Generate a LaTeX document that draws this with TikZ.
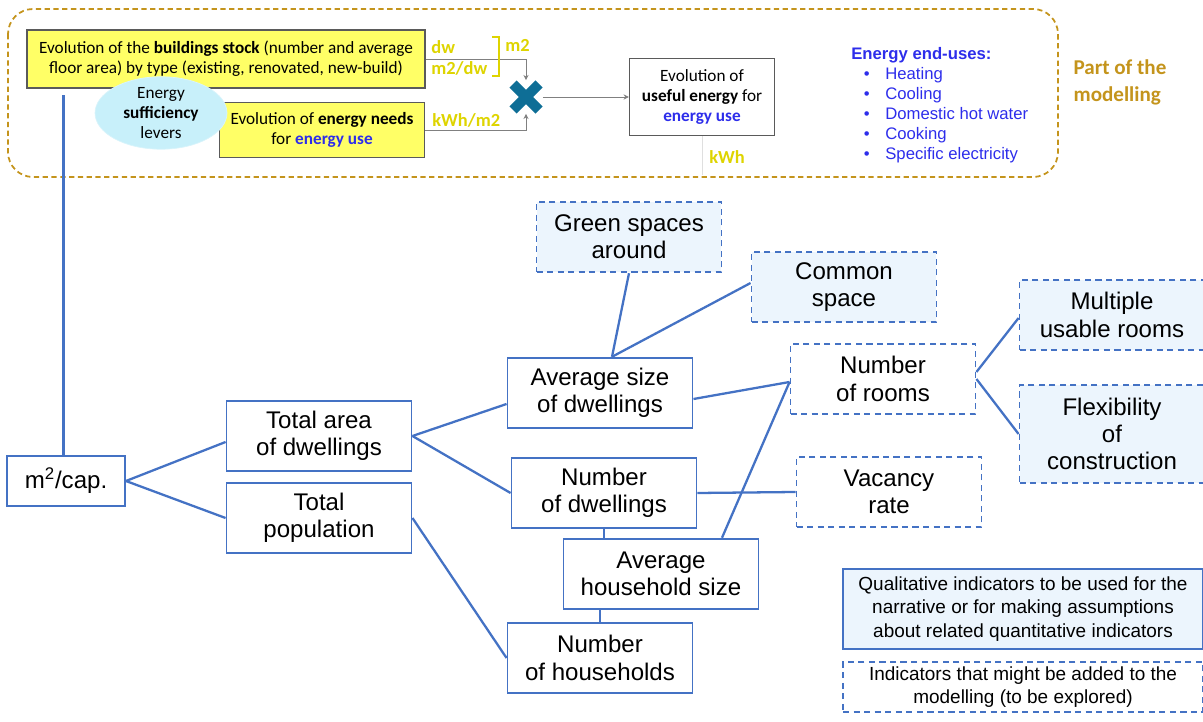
\documentclass[tikz,border=0pt]{standalone}
\usepackage{fontspec}
\setmainfont{Liberation Sans}
\newfontfamily\calfont{Carlito}
\usepackage{xcolor}
\usepackage{tikz}
\usetikzlibrary{shapes.geometric, arrows.meta, positioning, calc}
\definecolor{linkblue}{RGB}{68,114,196}
\definecolor{paleblue}{RGB}{236,245,253}
\definecolor{stockyellow}{RGB}{255,255,102}
\definecolor{unitsyellow}{RGB}{222,212,0}
\definecolor{modelgold}{RGB}{196,148,28}
\definecolor{leverscyan}{RGB}{200,240,250}
\definecolor{crossteal}{RGB}{14,110,150}
\definecolor{enduseblue}{RGB}{45,45,235}
\definecolor{boxgray}{RGB}{90,90,90}
\newcommand{\treefont}{\fontsize{13.7}{15.5}\selectfont}
\newcommand{\legendfont}{\fontsize{10.8}{13.2}\selectfont}
\newcommand{\topfont}{\calfont\fontsize{9.8}{11.4}\selectfont}
\newcommand{\usesfont}{\fontsize{9.5}{11.4}\selectfont}
\tikzset{
  treebox/.style={rectangle, draw=linkblue, fill=white, line width=1.1pt,
    align=center, font=\treefont, minimum width=3.7cm, minimum height=1.41cm,
    inner sep=0pt},
  dashbox/.style={treebox, dash pattern=on 3.5pt off 2.5pt},
  qualbox/.style={dashbox, fill=paleblue},
  legendbox/.style={font=\legendfont, minimum width=7.2cm},
  link/.style={draw=linkblue, line width=1.3pt},
  modelframe/.style={draw=modelgold, line width=1pt, dash pattern=on 3pt off 2pt,
    rounded corners=0.5cm},
  yellowbox/.style={rectangle, draw=boxgray, fill=stockyellow, line width=0.8pt,
    align=center, font=\topfont, inner sep=0pt},
  unitlabel/.style={text=unitsyellow, font=\calfont\fontsize{10.5}{12}\selectfont\bfseries,
    inner sep=0pt},
  feed/.style={draw=gray, line width=0.5pt, -{Stealth[length=3pt, width=3pt]}},
  crossarm/.style={draw=crossteal, line width=0.2cm}
}

\begin{document}
\begin{tikzpicture}[x=0.02cm, y=-0.02cm]
  \useasboundingbox (0,0) rectangle (1203,722);

  % Part of the modelling
  \draw[modelframe] (8,9) rectangle (1058,177);
  \node[text=modelgold, font=\calfont\fontsize{12}{15.3}\selectfont\bfseries, align=left]
    (modtitle) at (1120,82) {Part of the\\modelling};

  \node[yellowbox, minimum width=7.96cm, minimum height=1.16cm] (stock) at (226,59)
    {Evolution of the \textbf{buildings stock} (number and average\\
     floor area) by type (existing, renovated, new-build)};
  \node[yellowbox, minimum width=4.1cm, minimum height=1.1cm] (needs) at (322,130)
    {Evolution of \textbf{energy needs}\\
     for \textbf{\color{enduseblue}energy use}};
  \node[ellipse, fill=leverscyan, draw=leverscyan!70!white, minimum width=2.64cm,
    minimum height=1.38cm, inner sep=0pt, align=center, font=\topfont]
    (levers) at (161,113) {Energy\\\textbf{sufficiency}\\levers};

  % Multiplication
  \node[minimum size=0.66cm, inner sep=0pt] (mult) at (526,97) {};
  \draw[crossarm] ($(mult)+(-13,-13)$) -- ($(mult)+(13,13)$);
  \draw[crossarm] ($(mult)+(-13,13)$) -- ($(mult)+(13,-13)$);
  \draw[feed] (stock.east) -| (mult.north);
  \draw[feed] (needs.east) -| (mult.south);

  \node[rectangle, draw=boxgray, fill=white, line width=0.8pt, align=center,
    font=\topfont, minimum width=2.9cm, minimum height=1.54cm, inner sep=0pt]
    (useful) at (702,97)
    {Evolution of\\\textbf{useful energy} for\\\textbf{\color{enduseblue}energy use}};
  \draw[feed] (mult.east) -- (useful.west);
  \coordinate (usefulout) at (702,175);
  \draw[gray!25, line width=0.4pt] (useful.south) -- (usefulout);

  % Units
  \node[unitlabel, anchor=west] (dw) at (431,47) {dw};
  \node[unitlabel, anchor=west] (areadw) at (431,68) {m2/dw};
  \node[unitlabel, anchor=west] (kwhm) at (432,120) {kWh/m2};
  \node[unitlabel, anchor=west] (msq) at (505,45) {m2};
  \node[unitlabel] (kwh) at (727,157) {kWh};
  \draw[unitsyellow, line width=1.4pt] (492,37) -- (499,37) -- (499,76) -- (492,76);

  % End uses
  \node[anchor=north west, align=left, inner sep=0pt, font=\usesfont,
    text=enduseblue] (enduses) at (851,47)
    {\textbf{Energy end-uses:}\\
     \hspace*{0.25cm}\makebox[0.43cm][l]{\textbullet}Heating\\
     \hspace*{0.25cm}\makebox[0.43cm][l]{\textbullet}Cooling\\
     \hspace*{0.25cm}\makebox[0.43cm][l]{\textbullet}Domestic hot water\\
     \hspace*{0.25cm}\makebox[0.43cm][l]{\textbullet}Cooking\\
     \hspace*{0.25cm}\makebox[0.43cm][l]{\textbullet}Specific electricity};

  % Indicator tree
  \node[treebox, minimum width=2.36cm, minimum height=1.0cm] (cap) at (66,481)
    {m\textsuperscript{2}/cap.};
  \node[treebox] (area) at (319,436) {Total area\\of dwellings};
  \node[treebox] (pop) at (319,518) {Total\\population};
  \node[treebox] (avgsize) at (600,393) {Average size\\of dwellings};
  \node[treebox] (numdw) at (604,493) {Number\\of dwellings};
  \node[treebox, minimum width=3.9cm] (hhsize) at (661,574) {Average\\household size};
  \node[treebox] (numhh) at (600,658) {Number\\of households};
  \node[qualbox] (green) at (629,237) {Green spaces\\around};
  \node[qualbox] (common) at (844,287) {Common\\space};
  \node[dashbox] (rooms) at (883,379) {Number\\of rooms};
  \node[qualbox] (multi) at (1112,315) {Multiple\\usable rooms};
  \node[qualbox, minimum height=1.96cm] (flex) at (1112,434) {Flexibility\\of\\construction};
  \node[dashbox] (vacancy) at (889,492) {Vacancy\\rate};

  \draw[link] ([xshift=-0.05cm]cap.north) -- ([xshift=-0.05cm,yshift=-0.12cm]cap.north |- stock.south);
  \draw[link] (cap.east) -- ([yshift=-0.12cm]area.west);
  \draw[link] (cap.east) -- (pop.west);
  \draw[link] (area.east) -- ([yshift=-0.22cm]avgsize.west);
  \draw[link] (area.east) -- (numdw.west);
  \draw[link] (pop.east) -- (numhh.west);
  \draw[link] ([xshift=0.24cm]avgsize.north) -- (green.south);
  \draw[link] ([xshift=0.24cm]avgsize.north) -- ([yshift=0.08cm]common.west);
  \draw[link] ([yshift=-0.12cm]avgsize.east) -- ([yshift=-0.06cm]rooms.west);
  \draw[link] (numdw.east) -- (vacancy.west);
  \draw[link] (numdw.south) -- (numdw.south |- hhsize.north);
  \draw[link] (numhh.north |- hhsize.south) -- (numhh.north);
  \draw[link] ([xshift=1.22cm]hhsize.north) -- ([yshift=-0.06cm]rooms.west);
  \draw[link] ([yshift=0.14cm]rooms.east) -- ([yshift=-0.06cm]multi.west);
  \draw[link] (rooms.east) -- (flex.west);

  % Legend
  \node[treebox, legendbox, fill=paleblue, minimum height=1.6cm] (legqual) at (1023,609)
    {Qualitative indicators to be used for the\\narrative or for making assumptions\\about related quantitative indicators};
  \node[dashbox, legendbox, minimum height=1.0cm] (legexplore) at (1023,687)
    {Indicators that might be added to the\\modelling (to be explored)};
\end{tikzpicture}
\end{document}
